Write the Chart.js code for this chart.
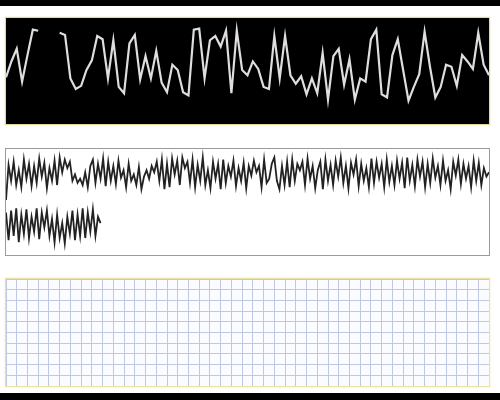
<!DOCTYPE html>
<html>
<head>
<meta charset="utf-8">
<script src="https://cdn.jsdelivr.net/npm/chart.js@4"></script>
<style>
  html, body { margin:0; padding:0; background:#ffffff; width:500px; height:400px; overflow:hidden; }
  .bar { position:absolute; left:0; width:500px; background:#000; }
  .panel { position:absolute; box-sizing:border-box; }
  .panel canvas { display:block; }
  #p1 { left:5px; top:17px; width:485px; height:108px; background:#000; border:1px solid #e8d99a; box-shadow:0 0 2px #f2e6b0; }
  #p2 { left:5px; top:148px; width:485px; height:108px; background:#fff; border:1px solid #9a9a9a; }
  #p3 { left:5px; top:278px; width:485px; height:109px; background:#fbfcff; border:1px solid #ebe0a6; box-shadow:0 0 2px #f4ecc0; }
</style>
</head>
<body>
<div class="bar" style="top:0;height:6px;"></div>
<div class="bar" style="top:393px;height:7px;"></div>
<div class="panel" id="p1"><canvas id="c1"></canvas></div>
<div class="panel" id="p2"><canvas id="c2"></canvas></div>
<div class="panel" id="p3"><canvas id="c3"></canvas></div>
<script>
// ---- Data ----
const topSeries = [44,59,71,40,65,89,88,null,null,null,
  86,84,43,33,36,51,60,83,80,43,
  79,35,29,76,84,42,64,43,69,39,
  30,56,51,30,27,89,90,43,79,83,
  73,88,29,88,51,46,59,52,35,33,
  83,43,83,46,38,45,28,43,29,67,
  23,64,71,37,61,23,43,40,80,89,
  28,25,65,80,51,22,35,47,87,54,
  25,35,56,54,36,65,59,52,86,56,46];

const stripRow1 = [52,85,70,88,66,80,64,90,72,86,65,84,68,91,74,87,63,82,70,89,66,92,
  78,90,82,88,70,76,68,72,66,78,64,84,
  90,68,86,72,91,65,88,70,84,67,89,73,80,64,86,70,76,66,83,62,
  74,80,72,84,78,88,70,90,62,86,64,91,76,89,66,92,82,88,
  68,90,64,85,70,92,66,80,63,88,72,86,62,90,68,84,74,89,65,82,
  70,87,63,84,75,89,78,84,64,90,68,72,86,92,70,62,84,66,88,64,90,70,86,80,88,66,91,72,84,63,
  80,88,62,90,70,85,66,89,74,92,68,84,63,87,76,90,65,86,70,82,64,91,68,88,73,86,64,90,69,84,
  66,89,72,87,63,92,70,85,65,90,74,88,64,86,68,91,73,84,66,89,70,80,
  62,88,75,90,67,86,72,84,64,89,70,87,66,82,74,78];

const stripRow2 = [40,14,42,18,44,12,38,20,43,16,36,22,44,15,40,26,42,18,34,12,
  38,16,30,11,36,20,42,14,38,18,44,16,40,22,43,18,36,30];

const gridColumns = 45;
const gridRows = 10;

// ---- Helpers ----
function sizeCanvas(id) {
  const el = document.getElementById(id);
  const p = el.parentElement;
  el.width = p.clientWidth; el.height = p.clientHeight;
  el.style.width = p.clientWidth + 'px'; el.style.height = p.clientHeight + 'px';
  return el;
}
const base = {
  responsive:false, animation:false, maintainAspectRatio:false,
  layout:{padding:0},
  plugins:{legend:{display:false}, tooltip:{enabled:false}},
  elements:{point:{radius:0}}
};

// ---- Top chart ----
new Chart(sizeCanvas('c1'), {
  type:'line',
  data:{ labels: topSeries.map((_, i) => i),
    datasets:[{ data: topSeries, borderColor:'#dedede', borderWidth:2.2, tension:0, spanGaps:false }] },
  options:Object.assign({}, base, {
    scales:{ x:{display:false}, y:{display:false, min:0, max:100} }
  })
});

// ---- Middle chart ----
new Chart(sizeCanvas('c2'), {
  type:'line',
  data:{ labels: stripRow1.map((_, i) => i),
    datasets:[
      { data: stripRow1, borderColor:'#222222', borderWidth:1.8, tension:0 },
      { data: stripRow2, borderColor:'#222222', borderWidth:1.8, tension:0 }
    ] },
  options:Object.assign({}, base, {
    scales:{ x:{display:false}, y:{display:false, min:0, max:100} }
  })
});

// ---- Bottom grid ----
new Chart(sizeCanvas('c3'), {
  type:'scatter',
  data:{ datasets:[{ data: [] }] },
  options:Object.assign({}, base, {
    scales:{
      x:{ type:'linear', min:0, max:gridColumns, ticks:{display:false, stepSize:1}, border:{display:false},
          grid:{color:'#c0c8e2', lineWidth:1, drawTicks:false} },
      y:{ type:'linear', min:0, max:gridRows, ticks:{display:false, stepSize:1}, border:{display:false},
          grid:{color:'#c0c8e2', lineWidth:1, drawTicks:false} }
    }
  })
});
</script>
</body>
</html>
